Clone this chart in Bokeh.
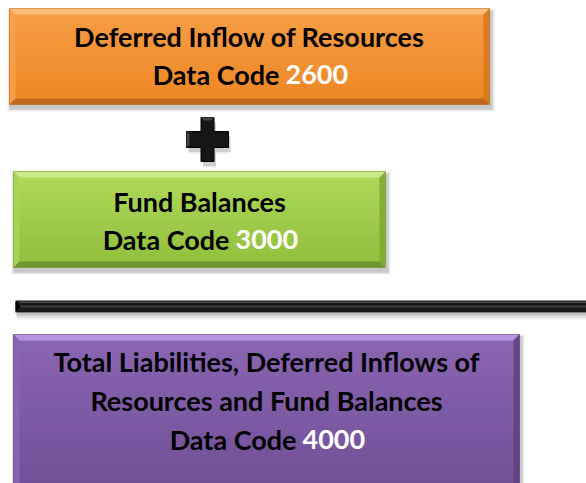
import numpy as np
from bokeh.plotting import figure
from bokeh.models import Range1d
from bokeh.embed import file_html
from bokeh.resources import INLINE
from bokeh.core.properties import value

# ---- content ----
box_titles = [
    ["Deferred Inflow of Resources"],
    ["Fund Balances"],
    ["Total Liabilities, Deferred Inflows of", "Resources and Fund Balances"],
]
code_prefix = "Data Code"
box_codes = ["2600", "3000", "4000"]

# ---- layout (page pixel frame) ----
W, H = 586, 483
box_rects = [(9, 8, 489, 104), (13, 171, 385, 267), (13, 334, 519, 505)]
line_baselines = [[36, 74], [201, 239], [361, 400, 439]]
split_offset = 36
palettes = [
    dict(top="#F89E45", bottom="#EC8624", hi="#FCC07E", left="#F7A04C", right="#D7791F", low="#B8651C"),
    dict(top="#AFD95A", bottom="#8FBF3C", hi="#CDEC8C", left="#A9D558", right="#7FAA33", low="#6C922B"),
    dict(top="#8B66B3", bottom="#6E4D93", hi="#BA9AE2", left="#8966B0", right="#5F4282", low="#4F356C"),
]
FONT = "Lato"
FSIZE = "27px"

p = figure(width=W, height=H, x_range=Range1d(0, W), y_range=Range1d(H, 0),
           output_backend="svg", toolbar_location=None, min_border=0,
           min_border_left=0, min_border_right=0, min_border_top=0, min_border_bottom=0)
p.axis.visible = False
p.grid.visible = False
p.outline_line_color = None
p.background_fill_color = "white"


def hex2rgb(h):
    h = h.lstrip("#")
    return np.array([int(h[i:i + 2], 16) for i in (0, 2, 4)], dtype=float)


def rgb2hex(c):
    return "#%02x%02x%02x" % tuple(int(round(v)) for v in c)


def shadow(x0, y0, x1, y1):
    for k, a in [(6, 0.05), (4, 0.07), (2, 0.10)]:
        p.quad(left=x0 + 1 - k / 2, right=x1 + 2 + k / 2, top=y0 + 3 - k / 2, bottom=y1 + 4 + k / 2,
               fill_color="black", fill_alpha=a, line_color=None)


def bevel_box(x0, y0, x1, y1, pal, b=6, n=24):
    shadow(x0, y0, x1, y1)
    c0, c1 = hex2rgb(pal["top"]), hex2rgb(pal["bottom"])
    ys = np.linspace(y0, y1, n + 1)
    cols = [rgb2hex(c0 + (c1 - c0) * (i + 0.5) / n) for i in range(n)]
    bottoms = [min(v + 1.5, y1) for v in ys[1:]]
    p.quad(left=[x0] * n, right=[x1] * n, top=list(ys[:-1]), bottom=bottoms,
           fill_color=cols, line_color=None)
    xs = [[x0, x1, x1 - b, x0 + b], [x0, x0 + b, x0 + b, x0], [x1, x1 - b, x1 - b, x1],
          [x0, x0 + b, x1 - b, x1]]
    yy = [[y0, y0, y0 + b, y0 + b], [y0, y0 + b, y1 - b, y1], [y0, y0 + b, y1 - b, y1],
          [y1, y1 - b, y1 - b, y1]]
    p.patches(xs, yy, fill_color=[pal["hi"], pal["left"], pal["right"], pal["low"]],
              fill_alpha=0.9, line_color=None)
    p.quad(left=x0, right=x1, top=y0, bottom=y1, fill_color=None, line_color=pal["low"],
           line_alpha=0.5, line_width=1)


for (x0, y0, x1, y1), pal, titles, code, bl in zip(box_rects, palettes, box_titles, box_codes, line_baselines):
    bevel_box(x0, y0, x1, y1, pal)
    cx = (x0 + x1) / 2
    p.text(x=[cx] * len(titles), y=bl[:len(titles)], text=titles, text_align="center",
           text_baseline="alphabetic", text_font=value(FONT), text_font_style="bold",
           text_font_size=FSIZE, text_color="black")
    sx = cx + split_offset
    p.text(x=[sx - 6], y=[bl[-1]], text=[code_prefix], text_align="right",
           text_baseline="alphabetic", text_font=value(FONT), text_font_style="bold",
           text_font_size=FSIZE, text_color="black")
    p.text(x=[sx], y=[bl[-1]], text=[code], text_align="left",
           text_baseline="alphabetic", text_font=value(FONT), text_font_style="bold",
           text_font_size=FSIZE, text_color="white")

# ---- plus sign ----
px, py = 207, 139
va, ha = 6.5, 8
arm_v, arm_h = 22, 21
cross_x = [px - va, px + va, px + va, px + arm_h, px + arm_h, px + va, px + va, px - va, px - va,
           px - arm_h, px - arm_h, px - va]
cross_y = [py - arm_v, py - arm_v, py - ha, py - ha, py + ha, py + ha, py + arm_v, py + arm_v,
           py + ha, py + ha, py - ha, py - ha]
for k, a in [(3, 0.08), (1.5, 0.12)]:
    p.patch([x + 2 for x in cross_x], [y + 3 + k for y in cross_y], fill_color="black",
            fill_alpha=a, line_color=None)
p.patch(cross_x, cross_y, fill_color="#161616", line_color="#000000", line_width=1)
p.patches([[px - va, px + va, px + va - 3, px - va + 3], [px - arm_h, px - arm_h + 3, px - arm_h + 3, px - arm_h]],
          [[py - arm_v, py - arm_v, py - arm_v + 3, py - arm_v + 3], [py - ha, py - ha + 3, py + ha - 3, py + ha]],
          fill_color="#444444", line_color=None)

# ---- separator bar ----
bx0, by0, bx1, by1 = 15, 300, 600, 312
for k, a in [(5, 0.05), (3, 0.08), (1, 0.12)]:
    p.quad(left=bx0 + 1, right=bx1, top=by1, bottom=by1 + 2 + k, fill_color="black", fill_alpha=a,
           line_color=None)
p.quad(left=bx0, right=bx1, top=by0, bottom=by1, fill_color="#1a1a1a", line_color=None)
p.quad(left=bx0 + 4, right=bx1, top=by0 + 1, bottom=by0 + 2.5, fill_color="#4a4a4a", line_color=None)
p.quad(left=bx0 + 4, right=bx1, top=by0 + 5, bottom=by0 + 7, fill_color="#3c3c3c", line_color=None)
p.patch([bx0, bx0 + 5, bx0], [by0 + 1, (by0 + by1) / 2, by1 - 1], fill_color="#000000", line_color=None)

open("out.html", "w").write(file_html(p, INLINE))
